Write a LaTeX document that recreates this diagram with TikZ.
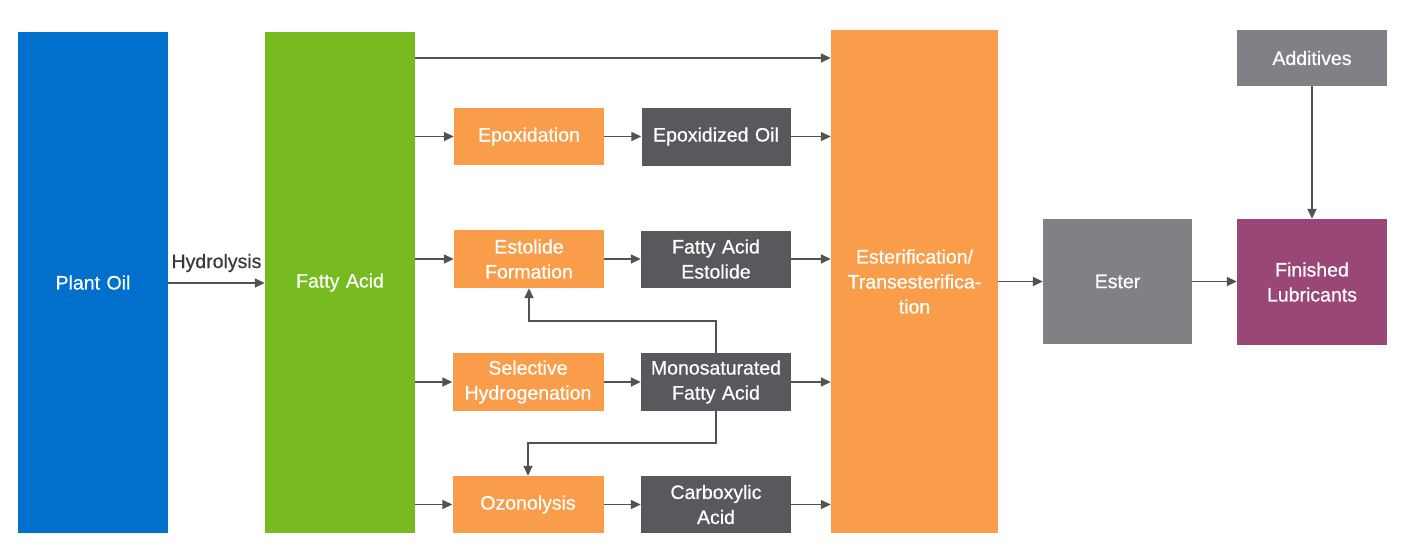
\documentclass[tikz,border=0pt]{standalone}
\usepackage{fontspec}
\setmainfont{Liberation Sans}[WordSpace=0.75]
\newfontfamily\boxfont{Liberation Sans}[FakeBold=0.6,WordSpace=0.7]
\usetikzlibrary{arrows.meta}
\definecolor{cblue}{RGB}{0,112,204}
\definecolor{cgreen}{RGB}{120,187,32}
\definecolor{corange}{RGB}{249,157,75}
\definecolor{cdark}{RGB}{88,89,93}
\definecolor{cgray}{RGB}{128,129,132}
\definecolor{cpurple}{RGB}{154,71,119}
\definecolor{cline}{RGB}{80,82,86}
\definecolor{ctext}{RGB}{58,58,58}
\begin{document}
\begin{tikzpicture}[x=1pt,y=-1pt,
  box/.style={rectangle, inner sep=2pt, text=white, align=center,
    font=\boxfont\fontsize{19.5}{25}\selectfont},
  sz/.style 2 args={minimum width=#1, minimum height=#2, text width=#1-6pt},
  arr/.style={draw=cline, line width=1.6pt, -{Triangle[length=10pt,width=9pt]}},
  lbl/.style={text=ctext, font=\boxfont\fontsize{19.5}{25}\selectfont}
]
\useasboundingbox[fill=white] (0,0) rectangle (1408,544);

\node[box, sz={150}{501}, fill=cblue]   (plant)  at (93,282.5)   {Plant Oil};
\node[box, sz={150}{501}, fill=cgreen]  (fatty)  at (340,282.5)  {Fatty Acid};
\node[box, sz={167}{503}, fill=corange] (esterif) at (914.5,281.5) {Esterification/\\Transesterifica-\\tion};

\node[box, sz={150}{57}, fill=corange] (epox)    at (529,136.5) {Epoxidation};
\node[box, sz={149}{58}, fill=cdark]   (epoxoil) at (716,136.5) {Epoxidized Oil};
\node[box, sz={150}{58}, fill=corange] (estf)    at (529,259)   {Estolide\\Formation};
\node[box, sz={150}{57}, fill=cdark]   (fae)     at (716,259)   {Fatty Acid\\Estolide};
\node[box, sz={151}{58}, fill=corange] (selh)    at (528,382)   {Selective\\Hydrogenation};
\node[box, sz={150}{58}, fill=cdark]   (mono)    at (716,382)   {Monosaturated\\Fatty Acid};
\node[box, sz={151}{57}, fill=corange] (ozon)    at (528,504.5) {Ozonolysis};
\node[box, sz={150}{57}, fill=cdark]   (carb)    at (716,504.5) {Carboxylic\\Acid};

\node[box, sz={149}{125}, fill=cgray]   (ester) at (1117.5,281.5) {Ester};
\node[box, sz={150}{126}, fill=cpurple] (fin)   at (1312,282)     {Finished\\Lubricants};
\node[box, sz={150}{56},  fill=cgray]   (add)   at (1312,58)      {Additives};

% connectors
\draw[arr] (plant.east |- 0,283) -- (fatty.west |- 0,283)
  node[midway, anchor=base, yshift=15pt, lbl] {Hydrolysis};
\draw[arr] (fatty.east |- 0,58) -- (esterif.west |- 0,58);

\draw[arr] (fatty.east |- epox.west) -- (epox.west);
\draw[arr] (fatty.east |- estf.west) -- (estf.west);
\draw[arr] (fatty.east |- selh.west) -- (selh.west);
\draw[arr] (fatty.east |- ozon.west) -- (ozon.west);

\draw[arr] (epox.east) -- (epoxoil.west);
\draw[arr] (estf.east) -- (fae.west);
\draw[arr] (selh.east) -- (mono.west);
\draw[arr] (ozon.east) -- (carb.west);

\draw[arr] (epoxoil.east) -- (esterif.west |- epoxoil.east);
\draw[arr] (fae.east) -- (esterif.west |- fae.east);
\draw[arr] (mono.east) -- (esterif.west |- mono.east);
\draw[arr] (carb.east) -- (esterif.west |- carb.east);

\draw[arr] (mono.north) -- ++(0,-32) -| (estf.south);
\draw[arr] (mono.south) -- ++(0,32) -| (ozon.north);

\draw[arr] (esterif.east |- ester.west) -- (ester.west);
\draw[arr] (ester.east) -- (fin.west |- ester.east);
\draw[arr] (add.south) -- (fin.north);
\end{tikzpicture}
\end{document}
